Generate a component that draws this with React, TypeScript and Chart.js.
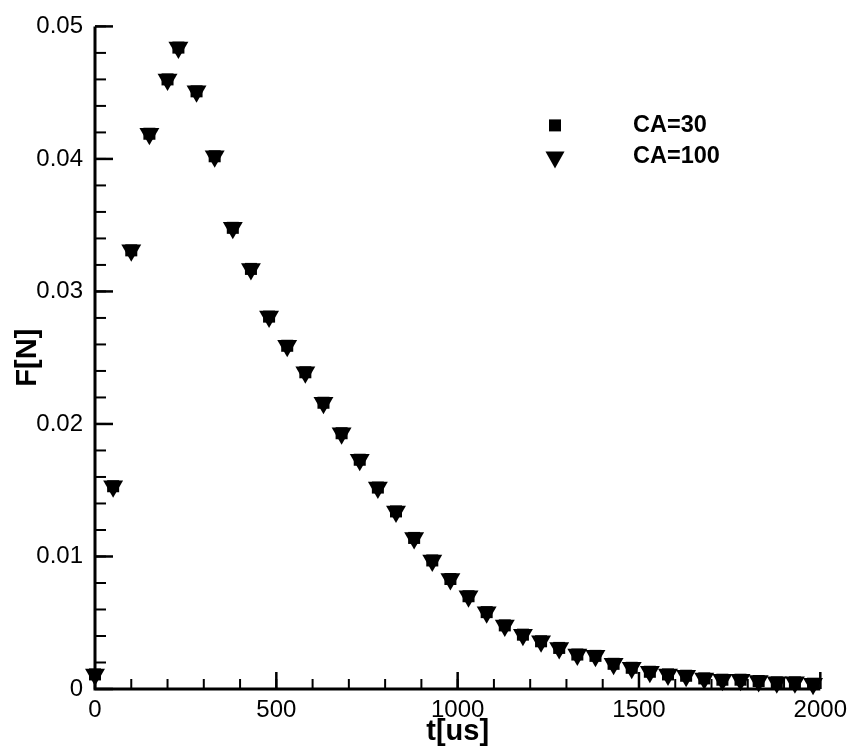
import React, { useEffect, useRef } from 'react';
import { Chart, registerables } from 'chart.js';

Chart.register(...registerables);

// ---- data ----
const timesUs = [
  0, 50, 100, 150, 200, 230, 280, 330, 380, 430, 480, 530, 580, 630, 680, 730,
  780, 830, 880, 930, 980, 1030, 1080, 1130, 1180, 1230, 1280, 1330, 1380, 1430,
  1480, 1530, 1580, 1630, 1680, 1730, 1780, 1830, 1880, 1930, 1980,
];

const forceCA100 = [
  0.0011, 0.0153, 0.0331, 0.0419, 0.046, 0.0484, 0.0451, 0.0402, 0.0348, 0.0317,
  0.0281, 0.0259, 0.0239, 0.0216, 0.0193, 0.0173, 0.0152, 0.0134, 0.0114, 0.0097,
  0.0083, 0.007, 0.0058, 0.0048, 0.0041, 0.0036, 0.0031, 0.0026, 0.0025, 0.0019,
  0.0016, 0.0013, 0.0011, 0.001, 0.0008, 0.0007, 0.0007, 0.0006, 0.0005, 0.0005,
  0.0004,
];

const forceCA30 = [
  0.0011, 0.0153, 0.0331, 0.0419, 0.046, 0.0484, 0.0451, 0.0402, 0.0348, 0.0317,
  0.0281, 0.0259, 0.0239, 0.0216, 0.0193, 0.0173, 0.0152, 0.0134, 0.0114, 0.0097,
  0.0083, 0.007, 0.0058, 0.0048, 0.0041, 0.0036, 0.0031, 0.0026, 0.0025, 0.0019,
  0.0016, 0.0013, 0.0011, 0.001, 0.0008, 0.0007, 0.0007, 0.0006, 0.0005, 0.0005,
  0.0004,
];

const seriesLabels = ['CA=30', 'CA=100'];
const xMajorTicks = [0, 500, 1000, 1500, 2000];
const yMajorTicks = [0, 0.01, 0.02, 0.03, 0.04, 0.05];
const xMinorStep = 100;
const yMinorStep = 0.002;
const xTitle = 't[us]';
const yTitle = 'F[N]';

const FONT = "'Liberation Sans', Arial, Helvetica, sans-serif";

const tecplotAxes = {
  id: 'tecplotAxes',
  beforeDatasetsDraw(chart: any) {
    const { ctx, chartArea, scales } = chart;
    const { left, right, top, bottom } = chartArea;
    const xs = scales.x;
    const ys = scales.y;
    ctx.save();
    ctx.strokeStyle = '#000';
    ctx.lineCap = 'butt';
    // minor ticks
    ctx.lineWidth = 2;
    const nx = Math.round((xs.max - xs.min) / xMinorStep);
    for (let i = 0; i <= nx; i++) {
      const px = xs.getPixelForValue(xs.min + i * xMinorStep);
      ctx.beginPath();
      ctx.moveTo(px, bottom);
      ctx.lineTo(px, bottom - 10);
      ctx.stroke();
    }
    const ny = Math.round((ys.max - ys.min) / yMinorStep);
    for (let i = 0; i <= ny; i++) {
      const py = ys.getPixelForValue(ys.min + i * yMinorStep);
      ctx.beginPath();
      ctx.moveTo(left, py);
      ctx.lineTo(left + 11, py);
      ctx.stroke();
    }
    // major ticks
    ctx.lineWidth = 2.5;
    xMajorTicks.forEach((v) => {
      const px = xs.getPixelForValue(v);
      ctx.beginPath();
      ctx.moveTo(px, bottom);
      ctx.lineTo(px, bottom - 17);
      ctx.stroke();
    });
    yMajorTicks.forEach((v) => {
      const py = ys.getPixelForValue(v);
      ctx.beginPath();
      ctx.moveTo(left, py);
      ctx.lineTo(left + 18, py);
      ctx.stroke();
    });
    // axis lines
    ctx.lineWidth = 3;
    ctx.beginPath();
    ctx.moveTo(left, top);
    ctx.lineTo(left, bottom);
    ctx.lineTo(right, bottom);
    ctx.stroke();
    ctx.restore();
  },
  afterDatasetsDraw(chart: any) {
    const { ctx, chartArea } = chart;
    const { left, top } = chartArea;
    const ds = chart.data.datasets;
    ctx.save();
    ctx.fillStyle = '#000';
    const sx = left + 460;
    const sy1 = top + 99;
    const sy2 = top + 133;
    // square marker
    ctx.fillRect(sx - 6, sy1 - 6, 12, 12);
    // triangle marker (pointing down)
    ctx.beginPath();
    ctx.moveTo(sx - 9.5, sy2 - 8);
    ctx.lineTo(sx + 9.5, sy2 - 8);
    ctx.lineTo(sx, sy2 + 9);
    ctx.closePath();
    ctx.fill();
    ctx.font = `bold 23.5px ${FONT}`;
    ctx.textAlign = 'left';
    ctx.textBaseline = 'middle';
    ctx.fillText(ds[0].label, left + 538, sy1);
    ctx.fillText(ds[1].label, left + 538, sy2 - 3);
    ctx.restore();
  },
};

export default function App() {
  const canvasRef = useRef<HTMLCanvasElement | null>(null);

  useEffect(() => {
    const canvas = canvasRef.current;
    if (!canvas) return;
    const chart = new Chart(canvas, {
      type: 'scatter',
      data: {
        datasets: [
          {
            label: seriesLabels[0],
            data: timesUs.map((t, i) => ({ x: t, y: forceCA30[i] })),
            pointStyle: 'rect',
            pointRadius: 8.5,
            pointHoverRadius: 8.5,
            backgroundColor: '#000',
            borderColor: '#000',
            borderWidth: 0,
            showLine: false,
            clip: false as any,
          },
          {
            label: seriesLabels[1],
            data: timesUs.map((t, i) => ({ x: t, y: forceCA100[i] })),
            pointStyle: 'triangle',
            pointRotation: 180,
            pointRadius: 11.5,
            pointHoverRadius: 11.5,
            backgroundColor: '#000',
            borderColor: '#000',
            borderWidth: 0,
            showLine: false,
            clip: false as any,
          },
        ],
      },
      options: {
        responsive: false,
        animation: false,
        events: [],
        layout: { padding: { left: 0, right: 31, top: 24, bottom: 0 } },
        plugins: {
          legend: { display: false },
          tooltip: { enabled: false },
        },
        scales: {
          x: {
            type: 'linear',
            min: 0,
            max: 2000,
            grid: { display: false, drawTicks: false },
            border: { display: false },
            afterBuildTicks: (scale: any) => {
              scale.ticks = xMajorTicks.map((v) => ({ value: v }));
            },
            afterFit: (scale: any) => {
              scale.height = 62;
            },
            ticks: {
              color: '#000',
              padding: 7,
              maxRotation: 0,
              autoSkip: false,
              font: { family: FONT, size: 24 },
              callback: (v: any) => String(v),
            },
            title: {
              display: true,
              text: xTitle,
              color: '#000',
              font: { family: FONT, size: 29, weight: 'bold' },
              padding: { top: 0, bottom: 2 },
            },
          },
          y: {
            type: 'linear',
            min: 0,
            max: 0.05,
            grid: { display: false, drawTicks: false },
            border: { display: false },
            afterBuildTicks: (scale: any) => {
              scale.ticks = yMajorTicks.map((v) => ({ value: v }));
            },
            afterFit: (scale: any) => {
              scale.width = 95;
            },
            ticks: {
              color: '#000',
              padding: 12,
              autoSkip: false,
              font: { family: FONT, size: 24 },
              callback: (v: any) => (v === 0 ? '0' : Number(v).toFixed(2)),
            },
            title: {
              display: true,
              text: yTitle,
              color: '#000',
              font: { family: FONT, size: 29, weight: 'bold' },
              padding: { top: 11, bottom: 0 },
            },
          },
        },
      },
      plugins: [tecplotAxes],
    });
    return () => chart.destroy();
  }, []);

  return (
    <div style={{ position: 'absolute', left: 0, top: 0, width: 854, height: 751, background: '#fff' }}>
      <canvas ref={canvasRef} width={854} height={751} style={{ display: 'block' }} />
    </div>
  );
}
